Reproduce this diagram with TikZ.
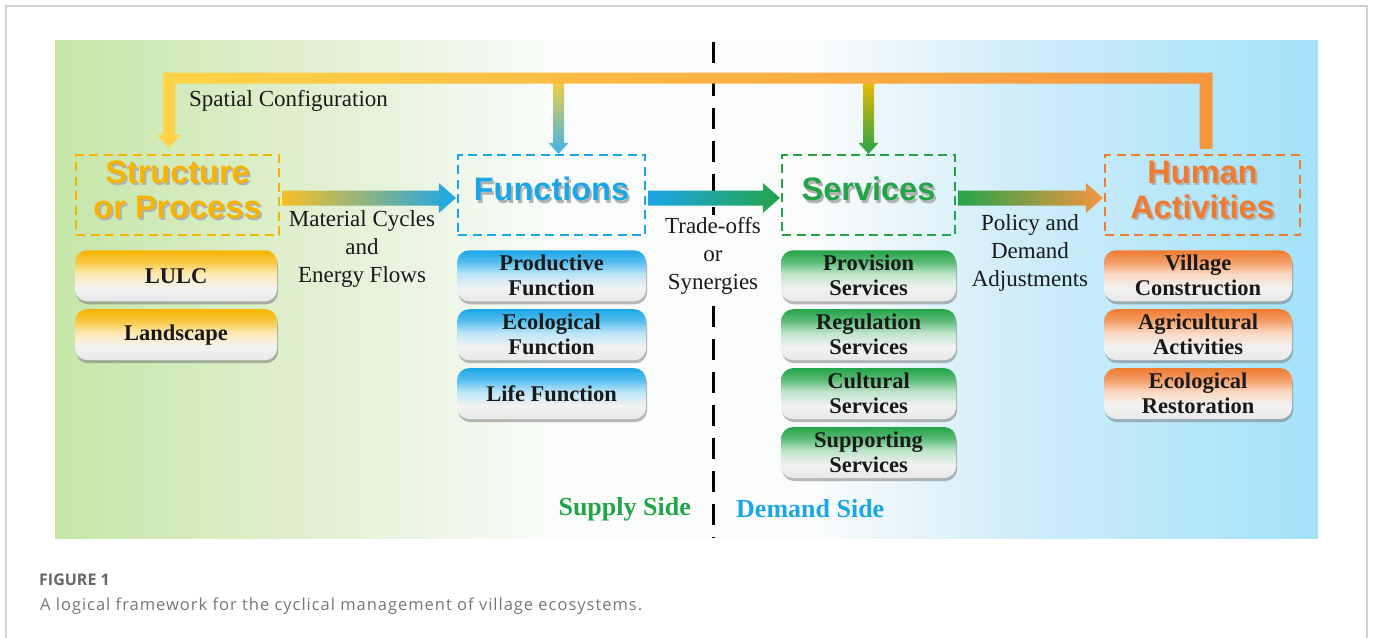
\documentclass[tikz,border=0pt]{standalone}
\usepackage{fontspec}
\setmainfont{Liberation Serif}
\newfontfamily\headfont{Liberation Sans}
\newfontfamily\capfont[LetterSpace=6]{Open Sans}
\newfontfamily\figfont{Open Sans}
\usetikzlibrary{positioning,calc,shadows}

\definecolor{bgL}{HTML}{C6E6A8}
\definecolor{bgLm}{HTML}{DDEFCB}
\definecolor{bgW}{HTML}{FAFCFB}
\definecolor{bgRm}{HTML}{D0EDF9}
\definecolor{bgR}{HTML}{A2E2F9}
\definecolor{strC}{HTML}{F6B400}
\definecolor{funC}{HTML}{1BA6E8}
\definecolor{serC}{HTML}{24A449}
\definecolor{humC}{HTML}{EF7B31}
\definecolor{barL}{HTML}{FFD447}
\definecolor{barR}{HTML}{F7953F}
\definecolor{inkC}{HTML}{1A1A1A}
\definecolor{capC}{HTML}{767676}
\definecolor{figC}{HTML}{666666}
\colorlet{itemlow}{black!9}
\colorlet{itemmid}{black!5}

\pgfdeclarehorizontalshading{panelshade}{100bp}{color(0bp)=(bgL); color(25bp)=(bgL); color(34bp)=(bgLm); color(45bp)=(bgW); color(55bp)=(bgW); color(63bp)=(bgRm); color(75bp)=(bgR); color(100bp)=(bgR)}

% list box shading: grey at the bottom, colour at the top
\newcommand{\itemshading}[2]{%
  \colorlet{#1mid}{#2!30!white}%
  \colorlet{#1high}{#2!75!white}%
  \pgfdeclareverticalshading{#1}{100bp}{color(0bp)=(itemlow); color(25bp)=(itemlow); color(38bp)=(itemmid); color(52bp)=(#1mid); color(64bp)=(#1high); color(75bp)=(#2); color(100bp)=(#2)}}
\itemshading{strS}{strC}
\itemshading{funS}{funC}
\itemshading{serS}{serC}
\itemshading{humS}{humC}

% heading text with a soft shadow
\newcommand{\ttltext}[2]{\makebox[0pt][l]{\hspace*{2pt}\raisebox{-2.5pt}{\color{black!30}\begin{tabular}{@{}c@{}}#2\end{tabular}}}{\color{#1}\begin{tabular}{@{}c@{}}#2\end{tabular}}}

% thick shaded arrow between two headings
\newcommand{\fatarrow}[4]{%
  \shade[left color=#3, right color=#4] let \p1=([shift={(2pt,-3pt)}]#1.east), \p2=([shift={(-1pt,-3pt)}]#2.west) in
    (\x1,\y1+7.5pt) -- (\x2-17pt,\y1+7.5pt) -- (\x2-17pt,\y1+15pt) -- (\x2,\y1) -- (\x2-17pt,\y1-15pt) -- (\x2-17pt,\y1-7.5pt) -- (\x1,\y1-7.5pt) -- cycle;}

% branch from the top bar down to a heading
\newcommand{\dropper}[3]{%
  \shade[top color=#2, bottom color=#3] let \p1=(#1), \p2=(bar) in
    (\x1-5.5pt,\y2) -- (\x1+5.5pt,\y2) -- (\x1+5.5pt,\y1+11pt) -- (\x1+10pt,\y1+11pt) -- (\x1,\y1) -- (\x1-10pt,\y1+11pt) -- (\x1-5.5pt,\y1+11pt) -- cycle;}

\begin{document}
\begin{tikzpicture}[x=1pt,y=-1pt,
  ttl/.style 2 args={draw=#1, dash pattern=on 9pt off 5.5pt, line width=2.2pt, minimum width=#2pt, minimum height=80pt, inner sep=0pt, font=\headfont\bfseries\fontsize{32.5}{35}\selectfont},
  listbox/.style 2 args={shade, shading=#1, rounded corners=12pt, minimum width=#2pt, minimum height=51pt, inner sep=0pt, align=center, text=inkC, font=\bfseries\fontsize{22.5}{25}\selectfont, drop shadow={shadow xshift=1pt,shadow yshift=-3pt,opacity=.5,fill=black!55}},
  note/.style={align=center, text=inkC, inner sep=2pt, font=\fontsize{23}{28}\selectfont},
  sidelabel/.style={inner sep=0pt, font=\bfseries\fontsize{26}{30}\selectfont},
  divider/.style={line width=3pt, dash pattern=on 21pt off 12pt}]
\useasboundingbox (0,0) rectangle (1373,637);
\draw[black!18, line width=1.2pt] (6,650) -- (6,6) -- (1367,6) -- (1367,650);
\shade[shading=panelshade] (55,40) rectangle (1318,538);

% supply / demand divider
\coordinate (divtop) at (713,42);
\coordinate (divbot) at (713,538);
\draw[divider] (divtop) -- (divbot);
\coordinate (bar) at (0,78);

% headings
\node[ttl={strC}{203}] (str) at (177.5,195) {\ttltext{strC}{Structure\\or Process}};
\node[ttl={funC}{187}] (fun) at (551.5,195) {\ttltext{funC}{Functions}};
\node[ttl={serC}{173}] (ser) at (868.5,195) {\ttltext{serC}{Services}};
\node[ttl={humC}{195}] (hum) at (1202.5,195) {\ttltext{humC}{Human\\Activities}};

% lists
\node[listbox={strS}{202}, below right=14pt and 0pt of str.south west] (lulc) {LULC};
\node[listbox={strS}{202}, below=7.5pt of lulc] (land) {Landscape};
\node[listbox={funS}{189}, below right=14pt and 0pt of fun.south west] (prod) {Productive\\Function};
\node[listbox={funS}{189}, below=7.5pt of prod] (ecof) {Ecological\\Function};
\node[listbox={funS}{189}, below=7.5pt of ecof] (life) {Life Function};
\node[listbox={serS}{175}, below right=14pt and 0pt of ser.south west] (prov) {Provision\\Services};
\node[listbox={serS}{175}, below=7.5pt of prov] (regu) {Regulation\\Services};
\node[listbox={serS}{175}, below=7.5pt of regu] (cult) {Cultural\\Services};
\node[listbox={serS}{175}, below=7.5pt of cult] (supp) {Supporting\\Services};
\node[listbox={humS}{188}, below right=14pt and 0pt of hum.south west] (vill) {Village\\Construction};
\node[listbox={humS}{188}, below=7.5pt of vill] (agri) {Agricultural\\Activities};
\node[listbox={humS}{188}, below=7.5pt of agri] (rest) {Ecological\\Restoration};

% flow labels
\node[note, anchor=west, inner sep=0pt] (spat) at (189,101) {Spatial Configuration};
\node[note] (mat) at (362,249) {Material Cycles\\and\\Energy Flows};
\node[note, fill=bgW] (trade) at (713,256) {Trade-offs\\or\\Synergies};
\node[note] (pol) at (1030,253) {Policy and\\Demand\\Adjustments};
\node[sidelabel, text=serC, anchor=east] (supside) at (691,509) {Supply Side};
\node[sidelabel, text=funC, anchor=west] (demside) at (736,509) {Demand Side};

% feedback from human activities
\dropper{[xshift=7pt]fun.north}{barL!80!strC}{funC!85!white}
\dropper{ser.north}{strC!90!yellow}{serC}
\shade[left color=barL, right color=barR] let \p1=([xshift=-8.5pt]str.north), \p2=([xshift=3.5pt]hum.north), \p3=(bar) in
  (\x1,\y1+6pt) -- (\x1-12pt,\y1+19pt) -- (\x1-6pt,\y1+19pt) -- (\x1-6pt,\y3+5.5pt) -- (\x2+6.5pt,\y3+5.5pt) -- (\x2+6.5pt,\y2+5pt) -- (\x2-6.5pt,\y2+5pt) -- (\x2-6.5pt,\y3-5.5pt) -- (\x1+6pt,\y3-5.5pt) -- (\x1+6pt,\y1+19pt) -- (\x1+12pt,\y1+19pt) -- cycle;

% main flow
\fatarrow{str}{fun}{strC!85!white}{funC}
\fatarrow{fun}{ser}{funC}{serC}
\fatarrow{ser}{hum}{serC}{barR}

% caption
\node[anchor=base west, inner sep=0pt, text=figC, font=\figfont\bfseries\fontsize{16}{19}\selectfont] (fig) at (39,585) {FIGURE 1};
\node[anchor=base west, inner sep=0pt, text=capC, font=\capfont\fontsize{16.5}{19}\selectfont] (cap) at (40,610) {A logical framework for the cyclical management of village ecosystems.};
\end{tikzpicture}
\end{document}
